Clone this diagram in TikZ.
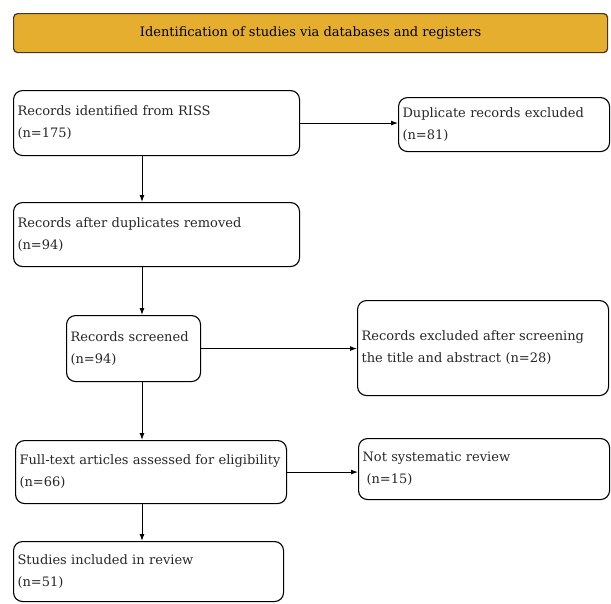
\documentclass[tikz,border=0pt]{standalone}
\usepackage{fontspec}
\setmainfont{DejaVu Serif}
\usetikzlibrary{arrows.meta,calc}
\definecolor{hdrfill}{HTML}{E6AE2E}
\definecolor{hdrline}{HTML}{4A3422}

\begin{document}
\begin{tikzpicture}[x=1pt,y=-1pt,font=\fontsize{13}{22}\selectfont,
  flowbox/.style={draw,rounded corners=9pt,line width=1.1pt,inner xsep=4pt,inner ysep=0pt,
    align=left,anchor=north west,text=black!85},
  arr/.style={-{Latex[length=7pt,width=5pt]},line width=1pt}]
  \useasboundingbox (0,0) rectangle (611,603);
  \node[draw=hdrline,fill=hdrfill,rounded corners=4pt,line width=1.2pt,anchor=north west,
    minimum width=594pt,minimum height=39pt] (hdr) at (13,13)
    {Identification of studies via databases and registers};
  \node[flowbox,text width=278pt,minimum height=65pt] (riss) at (13,90) {Records identified from RISS\\(n=175)};
  \node[flowbox,text width=203pt,minimum height=54pt] (dup) at (398,97) {Duplicate records excluded\\(n=81)};
  \node[flowbox,text width=278pt,minimum height=64pt] (dedup) at (13,202) {Records after duplicates removed\\(n=94)};
  \node[flowbox,text width=126pt,minimum height=66pt] (scr) at (66,315) {Records screened\\(n=94)};
  \node[flowbox,text width=243pt,minimum height=95pt] (excl) at (357,300) {Records excluded after screening\\the title and abstract (n=28)};
  \node[flowbox,text width=263pt,minimum height=63pt] (full) at (15,440) {Full-text articles assessed for eligibility\\(n=66)};
  \node[flowbox,text width=243pt,minimum height=61pt] (notsr) at (358,438) {Not systematic review\\\hspace{4pt}(n=15)};
  \node[flowbox,text width=262pt,minimum height=60pt] (incl) at (13,541) {Studies included in review\\(n=51)};
  \coordinate (spine) at (142,0);
  \draw[arr] (riss.south -| spine) -- (dedup.north -| spine);
  \draw[arr] (dedup.south -| spine) -- (scr.north -| spine);
  \draw[arr] (scr.south -| spine) -- (full.north -| spine);
  \draw[arr] (full.south -| spine) -- (incl.north -| spine);
  \draw[arr] (riss.east) -- (dup.west |- riss.east);
  \draw[arr] (scr.east) -- (excl.west |- scr.east);
  \draw[arr] (full.east) -- (notsr.west |- full.east);
\end{tikzpicture}
\end{document}
